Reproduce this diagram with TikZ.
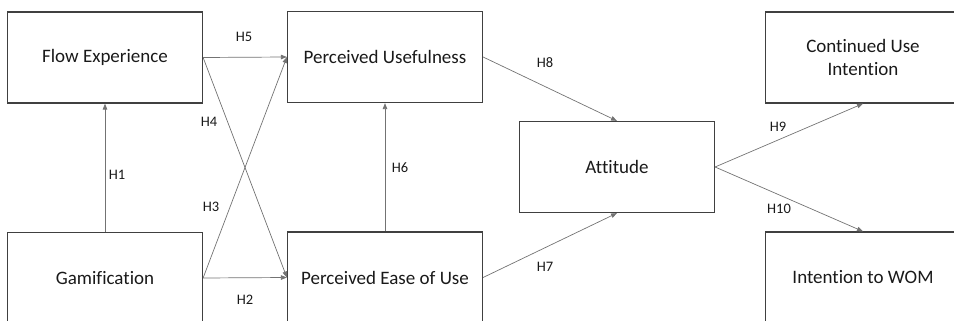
\documentclass[tikz,border=0pt]{standalone}
\usepackage{fontspec}
\setmainfont[Ligatures=NoCommon]{Carlito}
\usetikzlibrary{arrows.meta}
\begin{document}
\begin{tikzpicture}[x=1pt,y=-1pt,
  box/.style={draw=black!75,line width=1.2pt,rectangle,minimum width=195pt,minimum height=91pt,inner sep=0pt,font=\fontsize{19}{23}\selectfont,text=black!90,align=center},
  conn/.style={draw=black!55,line width=0.7pt,-{Triangle[length=6pt,width=4.5pt]}},
  hlab/.style={font=\fontsize{14.5}{16}\selectfont,text=black!90,inner sep=0pt}]
\useasboundingbox (0,0) rectangle (954,321);
\clip (0,0) rectangle (954,321);
\node[box] (flow) at (105,57.5) {Flow Experience};
\node[box] (gam) at (105,278) {Gamification};
\node[box] (pu) at (385,57) {Perceived Usefulness};
\node[box] (peou) at (385,277.5) {Perceived Ease of Use};
\node[box] (att) at (617,167) {Attitude};
\node[box] (cui) at (863,57.5) {Continued Use\\Intention};
\node[box] (iwom) at (863,277.5) {Intention to WOM};
\draw[conn] (gam.north) -- (flow.south);
\draw[conn] (flow.east) -- (pu.west);
\draw[conn] (flow.east) -- (peou.west);
\draw[conn] (gam.east) -- (pu.west);
\draw[conn] (gam.east) -- (peou.west);
\draw[conn] (peou.north) -- (pu.south);
\draw[conn] (pu.east) -- (att.north);
\draw[conn] (peou.east) -- (att.south);
\draw[conn] (att.east) -- (cui.south);
\draw[conn] (att.east) -- (iwom.north);
\node[hlab] (h1) at (117,175) {H1};
\node[hlab] (h5) at (244,37) {H5};
\node[hlab] (h4) at (209,122) {H4};
\node[hlab] (h3) at (211,207) {H3};
\node[hlab] (h2) at (245,300) {H2};
\node[hlab] (h6) at (400,168) {H6};
\node[hlab] (h8) at (545,63) {H8};
\node[hlab] (h7) at (545,267) {H7};
\node[hlab] (h9) at (778,127) {H9};
\node[hlab] (h10) at (779,209) {H10};
\end{tikzpicture}
\end{document}
